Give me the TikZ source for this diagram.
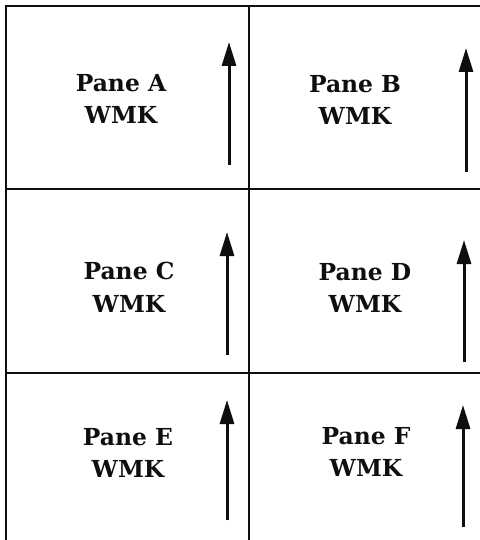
\documentclass[tikz,border=0pt]{standalone}
\usepackage{fontspec}
\setmainfont{DejaVu Serif}
\usetikzlibrary{arrows.meta}
\usepackage{xcolor}
\definecolor{inkblack}{RGB}{15, 15, 15}

\begin{document}
\begin{tikzpicture}[
    x=1bp, y=-1bp,
    gridline/.style={draw=inkblack, line width=2.1bp},
    panelabel/.style={align=center, font=\bfseries\fontsize{23.5}{33}\selectfont, text=inkblack},
    arrow/.style={-{Triangle[length=24bp, width=14bp]}, line width=3bp, draw=inkblack},
]

\useasboundingbox (0,0) rectangle (480,540);

% Grid
\draw[gridline] (480,6) -- (6,6) -- (6,540);
\draw[gridline] (249,6) -- (249,540);
\draw[gridline] (6,189) -- (480,189);
\draw[gridline] (6,373) -- (480,373);

% Pane labels
\node[panelabel] (paneA) at (121,99) {Pane A\\WMK};
\node[panelabel] (paneB) at (355,100) {Pane B\\WMK};
\node[panelabel] (paneC) at (129,287) {Pane C\\WMK};
\node[panelabel] (paneD) at (365,288) {Pane D\\WMK};
\node[panelabel] (paneE) at (128,453) {Pane E\\WMK};
\node[panelabel] (paneF) at (366,452) {Pane F\\WMK};

% Arrow ends
\coordinate (tailA) at (229,165);
\coordinate (tipA) at (229,42);
\coordinate (tailB) at (466,172);
\coordinate (tipB) at (466,48);
\coordinate (tailC) at (227,355);
\coordinate (tipC) at (227,232);
\coordinate (tailD) at (464,362);
\coordinate (tipD) at (464,240);
\coordinate (tailE) at (227,520);
\coordinate (tipE) at (227,400);
\coordinate (tailF) at (463,527);
\coordinate (tipF) at (463,405);

% Arrows
\draw[arrow] (tailA) -- (tipA);
\draw[arrow] (tailB) -- (tipB);
\draw[arrow] (tailC) -- (tipC);
\draw[arrow] (tailD) -- (tipD);
\draw[arrow] (tailE) -- (tipE);
\draw[arrow] (tailF) -- (tipF);

\end{tikzpicture}
\end{document}
